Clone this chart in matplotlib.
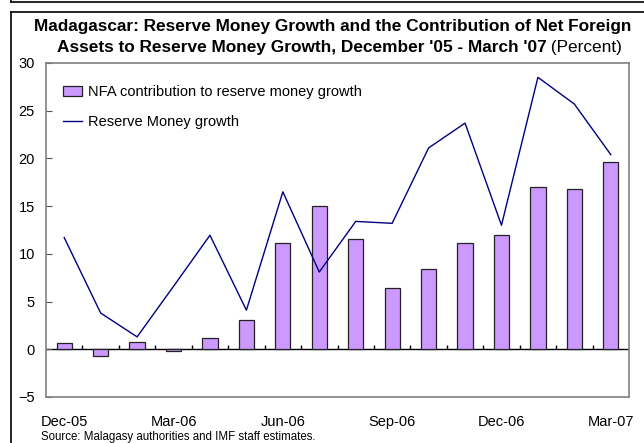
import numpy as np
import matplotlib.pyplot as plt
from matplotlib.lines import Line2D

plt.rcParams['font.family'] = ['Liberation Sans', 'DejaVu Sans']

months = ['Dec-05', 'Jan-06', 'Feb-06', 'Mar-06', 'Apr-06', 'May-06', 'Jun-06', 'Jul-06',
          'Aug-06', 'Sep-06', 'Oct-06', 'Nov-06', 'Dec-06', 'Jan-07', 'Feb-07', 'Mar-07']
nfa_contrib = [0.7, -0.7, 0.8, -0.2, 1.2, 3.1, 11.15, 15.0,
               11.6, 6.4, 8.4, 11.1, 12.0, 17.0, 16.8, 19.6]
reserve_money = [11.7, 3.8, 1.3, 6.6, 11.95, 4.1, 16.5, 8.1,
                 13.4, 13.2, 21.1, 23.7, 13.0, 28.5, 25.7, 20.4]
shown_labels = ['Dec-05', 'Mar-06', 'Jun-06', 'Sep-06', 'Dec-06', 'Mar-07']

W, H = 644, 443
fig = plt.figure(figsize=(W / 100, H / 100), dpi=100)
ax = fig.add_axes([46/W, 1 - 397/H, 583/W, 334/H])

x = np.arange(len(months))
bars = ax.bar(x, nfa_contrib, width=0.42, color='#CC99FF', edgecolor='#222222', linewidth=0.9,
              zorder=2)
line, = ax.plot(x, reserve_money, color='#000080', linewidth=1.0, zorder=3)

ax.set_xlim(-0.5, len(months) - 0.5)
ax.set_ylim(-5, 30)
ax.set_yticks(np.arange(-5, 31, 5))

# zero line with small category ticks
ax.axhline(0, color='black', linewidth=1.0, zorder=1)
ax.vlines(np.arange(0.5, len(months) - 0.5), 0, 0.45, color='black', linewidth=1.0, zorder=1)

ax.set_xticks([months.index(m) for m in shown_labels])
ax.set_xticklabels(shown_labels)
ax.tick_params(axis='x', length=0, pad=13, labelsize=10.5)
ax.tick_params(axis='y', direction='in', length=4, pad=8, labelsize=10.5, color='#555555')

for s in ax.spines.values():
    s.set_color('#808080')
    s.set_linewidth(1.2)

ax.legend([bars, line], ['NFA contribution to reserve money growth', 'Reserve Money growth'],
          loc='upper left', bbox_to_anchor=(0.02, 0.952), frameon=False, fontsize=10.5,
          handlelength=1.3, handletextpad=0.35, labelspacing=1.09, borderaxespad=0)

# title: two bold lines, the second followed by a plain "(Percent)"
fig.text(333/W, 1 - 30.7/H, 'Madagascar: Reserve Money Growth and the Contribution of Net Foreign',
         ha='center', va='baseline', fontsize=12.4, fontweight='bold')
t_bold = fig.text(0, 1 - 52.3/H, "Assets to Reserve Money Growth, December '05 - March '07",
                  ha='left', va='baseline', fontsize=12.4, fontweight='bold')
t_norm = fig.text(0, 1 - 52.3/H, ' (Percent)', ha='left', va='baseline', fontsize=12.4)
fig.canvas.draw()
r = fig.canvas.get_renderer()
w1 = t_bold.get_window_extent(r).width
w2 = t_norm.get_window_extent(r).width
x0 = 339.5 - (w1 + w2) / 2
t_bold.set_x(x0 / W)
t_norm.set_x((x0 + w1) / W)

fig.text(41/W, 1 - 437/H, 'Source: Malagasy authorities and IMF staff estimates.',
         ha='left', va='center', fontsize=8.3)

# outer frame lines
fig.add_artist(Line2D([11/W, 1], [1 - 2/H, 1 - 2/H], color='black', linewidth=1.2))
fig.add_artist(Line2D([11/W, 11/W], [1, 1 - 2/H], color='black', linewidth=1.2))
fig.add_artist(Line2D([11/W, 1], [1 - 11.5/H, 1 - 11.5/H], color='black', linewidth=1.2))
fig.add_artist(Line2D([11/W, 11/W], [0, 1 - 11.5/H], color='black', linewidth=1.2))

fig.savefig('out.png', dpi=100)
